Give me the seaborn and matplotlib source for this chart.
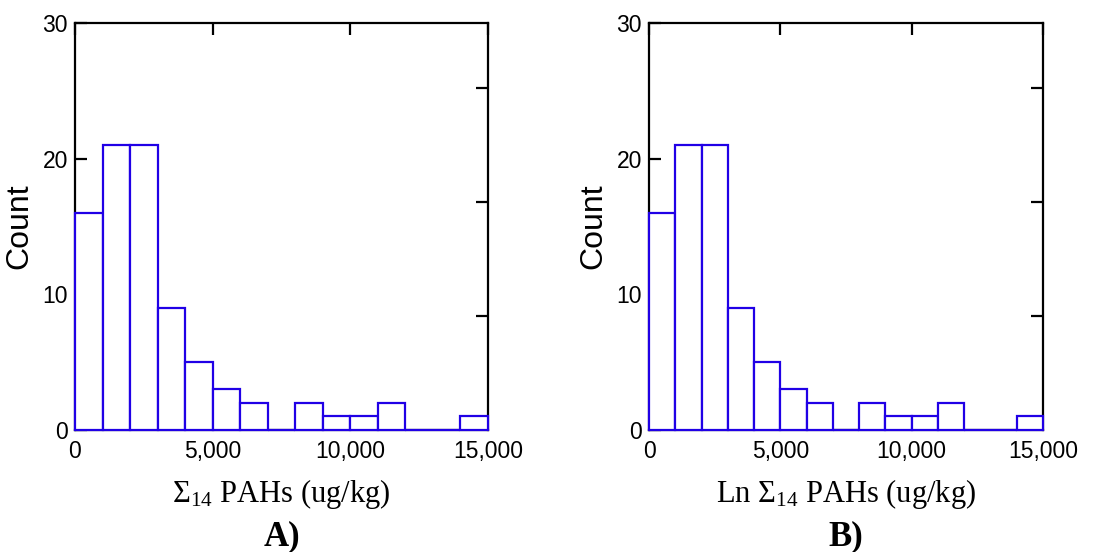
import numpy as np
import pandas as pd
import matplotlib
matplotlib.use("Agg")
import matplotlib.pyplot as plt
import seaborn as sns

# ---- data ----
bin_edges = [0, 1000, 2000, 3000, 4000, 5000, 6000, 7000, 8000, 9000,
             10000, 11000, 12000, 13000, 14000, 15000]
counts_a = [16, 21, 21, 9, 5, 3, 2, 0, 2, 1, 1, 2, 0, 0, 1]
counts_b = [16, 21, 21, 9, 5, 3, 2, 0, 2, 1, 1, 2, 0, 0, 1]
x_ticks = [0, 5000, 10000, 15000]
x_ticklabels = ["0", "5,000", "10,000", "15,000"]
y_ticks = [0, 10, 20, 30]
prop_ticks = [0.1, 0.2, 0.3]
xlabels = ["\u03A3$_{14}$ PAHs (ug/kg)", "Ln \u03A3$_{14}$ PAHs (ug/kg)"]
panel_tags = ["A)", "B)"]

sns.set_theme(style="white")
plt.rcParams['font.family'] = ['Liberation Sans', 'DejaVu Sans']
plt.rcParams['mathtext.fontset'] = 'custom'
plt.rcParams['mathtext.rm'] = 'Liberation Serif'
plt.rcParams['mathtext.it'] = 'Liberation Serif:italic'
plt.rcParams['mathtext.bf'] = 'Liberation Serif:bold'

BLUE = '#2000e6'

fig = plt.figure(figsize=(11.06, 5.52), dpi=100)
positions = [[0.0678, 0.2210, 0.3734, 0.7373],
             [0.5868, 0.2210, 0.3562, 0.7373]]

for pos, counts, xl, tag in zip(positions, [counts_a, counts_b], xlabels, panel_tags):
    ax = fig.add_axes(pos)
    edges = [float(e) for e in bin_edges]
    centers = [(a + b) / 2 for a, b in zip(edges[:-1], edges[1:])]
    df = pd.DataFrame({"value": centers, "count": [float(c) for c in counts]})
    sns.histplot(data=df, x="value", weights="count", bins=edges, ax=ax,
                 stat="count", element="bars", fill=True,
                 color="white", edgecolor=BLUE, linewidth=1.6, alpha=1.0)
    for p in ax.patches:
        p.set_facecolor("white")
        p.set_edgecolor(BLUE)
        p.set_clip_on(False)
        p.set_zorder(5)

    ax.set_xlim(0, 15000)
    ax.set_ylim(0, 30)
    for s in ax.spines.values():
        s.set_visible(True)
        s.set_color("black")
        s.set_linewidth(1.6)
        s.set_zorder(2)

    ax.set_yticks(y_ticks)
    ax.set_yticklabels([str(v) for v in y_ticks])
    ax.set_xticks(x_ticks)
    ax.set_xticklabels(x_ticklabels)
    ax.tick_params(axis='y', which='both', direction='in', left=True, right=False,
                   length=8.5, width=1.6, colors='black', labelsize=16.5, pad=5)
    ax.tick_params(axis='x', which='both', direction='in', bottom=False, top=True,
                   length=8.5, width=1.6, colors='black', labelsize=16.5, pad=7)

    n_total = float(np.sum(counts))
    sec = ax.secondary_yaxis('right', functions=(lambda c, n=n_total: np.asarray(c) / n,
                                                  lambda p, n=n_total: np.asarray(p) * n))
    sec.set_yticks(prop_ticks)
    sec.tick_params(direction='in', length=8.5, width=1.6, colors='black',
                    labelright=False)
    sec.spines['right'].set_visible(False)

    ax.set_ylabel("Count", fontsize=23, color='black', labelpad=6)
    ax.set_xlabel(xl, fontsize=22, color='black', family='Liberation Serif',
                  labelpad=10)
    ax.text(0.5, -0.262, tag, transform=ax.transAxes, ha='center', va='center',
            fontsize=25, fontweight='bold', family='Liberation Serif', color='black')

fig.savefig("out.png", dpi=100, facecolor='white')
